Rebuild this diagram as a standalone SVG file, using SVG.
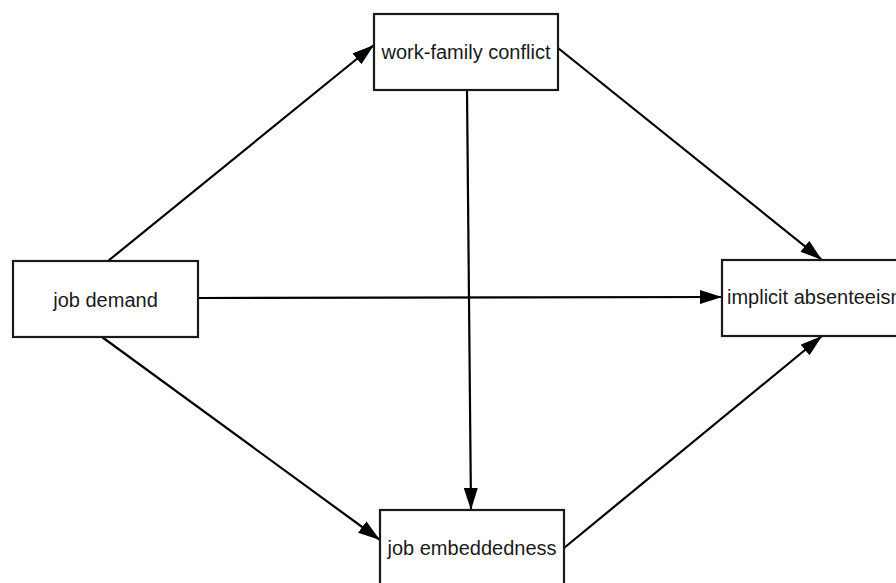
<svg xmlns="http://www.w3.org/2000/svg" width="896" height="583" viewBox="0 0 896 583">
<style>
.box{fill:#fff;stroke:#1a1a1a;stroke-width:2.2}
.lbl{font-family:"Liberation Sans",Arial,sans-serif;font-size:20px;fill:#1a1a1a}
.edge{stroke:#000;stroke-width:2.2;fill:none;marker-end:url(#ah)}
</style>
<defs>
<marker id="ah" viewBox="0 0 22 14" refX="22" refY="7" markerWidth="22" markerHeight="14" markerUnits="userSpaceOnUse" orient="auto">
<path d="M0,0 L22,7 L0,14 Z" fill="#000"/>
</marker>
</defs>
<rect width="896" height="583" fill="#fff"/>
<g id="connectors">
<line class="edge" x1="108" y1="261" x2="374" y2="45"/>
<line class="edge" x1="558" y1="48" x2="822" y2="260"/>
<line class="edge" x1="198" y1="298" x2="722" y2="297"/>
<line class="edge" x1="467" y1="90" x2="471" y2="510"/>
<line class="edge" x1="102" y1="337" x2="380" y2="540"/>
<line class="edge" x1="564" y1="548" x2="822" y2="336"/>
</g>
<g id="wfc">
<rect class="box" x="374" y="14" width="184" height="76"/>
<text class="lbl" x="466" y="59" text-anchor="middle">work-family conflict</text>
</g>
<g id="jd">
<rect class="box" x="13" y="261" width="185" height="76"/>
<text class="lbl" x="105.5" y="307" text-anchor="middle">job demand</text>
</g>
<g id="ia">
<rect class="box" x="722" y="260" width="200" height="76"/>
<text class="lbl" x="727" y="304">implicit absenteeism</text>
</g>
<g id="je">
<rect class="box" x="380" y="510" width="184" height="90"/>
<text class="lbl" x="472" y="555" text-anchor="middle">job embeddedness</text>
</g>
</svg>
